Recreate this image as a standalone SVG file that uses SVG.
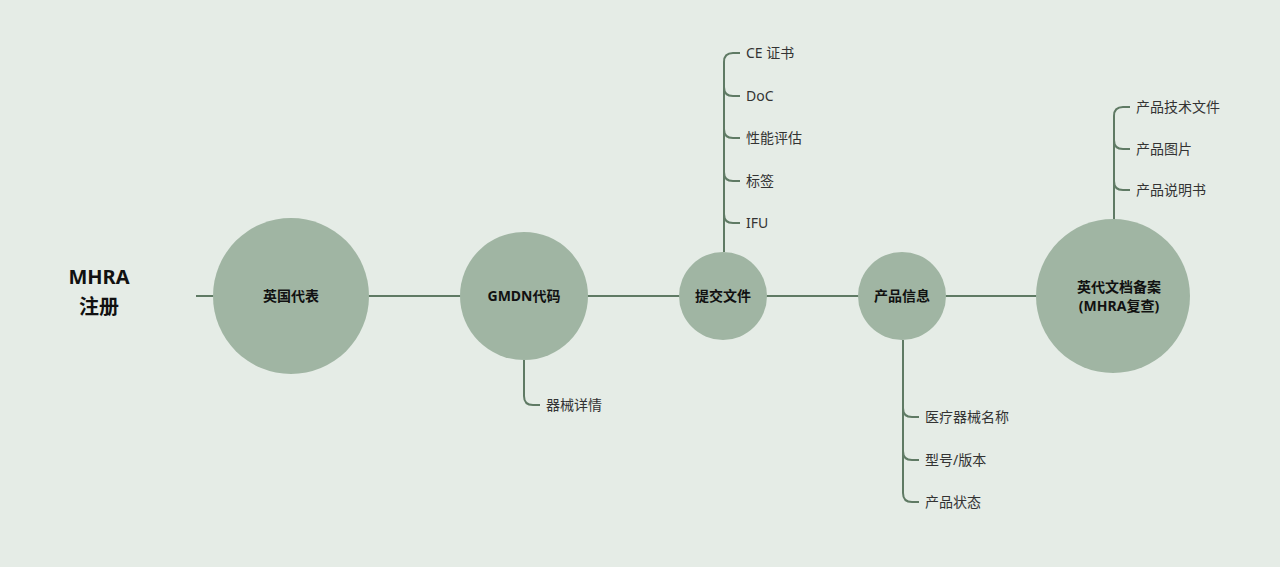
<svg xmlns="http://www.w3.org/2000/svg" width="1280" height="567" viewBox="0 0 1280 567">
<style>
.c{fill:#a0b5a3}
.l{fill:none;stroke:#5f7a64;stroke-width:2}
.t{font-family:"Noto Sans","Noto Sans CJK SC",sans-serif;font-size:14px;font-weight:bold;fill:#111;text-anchor:middle}
.s{font-family:"Noto Sans","Noto Sans CJK SC",sans-serif;font-size:14px;fill:#333}
.h{font-family:"Noto Sans","Noto Sans CJK SC",sans-serif;font-size:20px;font-weight:bold;fill:#111;text-anchor:middle}
</style>
<rect width="1280" height="567" fill="#e5ece6"/>
<g id="connectors">
<path class="l" d="M196 296H1040"/>
<path class="l" d="M724 252V62Q724 53 733 53H740M724 87Q724 96 733 96H740M724 129Q724 138 733 138H740M724 172Q724 181 733 181H740M724 214Q724 223 733 223H740"/>
<path class="l" d="M524 360V396Q524 405 533 405H540"/>
<path class="l" d="M903 340V493Q903 502 912 502H919M903 408Q903 417 912 417H919M903 451Q903 460 912 460H919"/>
<path class="l" d="M1114 220V116Q1114 107 1123 107H1130M1114 140Q1114 149 1123 149H1130M1114 181Q1114 190 1123 190H1130"/>
</g>
<g id="root"><text class="h" x="99" y="284">MHRA</text><text class="h" x="99" y="314">注册</text></g>
<g id="n1"><circle class="c" cx="291" cy="296" r="78"/><text class="t" x="291" y="301">英国代表</text></g>
<g id="n2"><circle class="c" cx="524" cy="296" r="64"/><text class="t" x="524" y="301">GMDN代码</text></g>
<g id="n3"><circle class="c" cx="723" cy="296" r="44"/><text class="t" x="723" y="301">提交文件</text></g>
<g id="n4"><circle class="c" cx="902" cy="296" r="44"/><text class="t" x="902" y="301">产品信息</text></g>
<g id="n5"><circle class="c" cx="1113" cy="296" r="77"/><text class="t" x="1119" y="292">英代文档备案</text><text class="t" x="1119" y="311">(MHRA复查)</text></g>
<g id="leaves">
<text class="s" x="746" y="58">CE 证书</text>
<text class="s" x="746" y="101">DoC</text>
<text class="s" x="746" y="143">性能评估</text>
<text class="s" x="746" y="186">标签</text>
<text class="s" x="746" y="228">IFU</text>
<text class="s" x="546" y="410">器械详情</text>
<text class="s" x="925" y="422">医疗器械名称</text>
<text class="s" x="925" y="465">型号/版本</text>
<text class="s" x="925" y="507">产品状态</text>
<text class="s" x="1136" y="112">产品技术文件</text>
<text class="s" x="1136" y="154">产品图片</text>
<text class="s" x="1136" y="195">产品说明书</text>
</g>
</svg>
